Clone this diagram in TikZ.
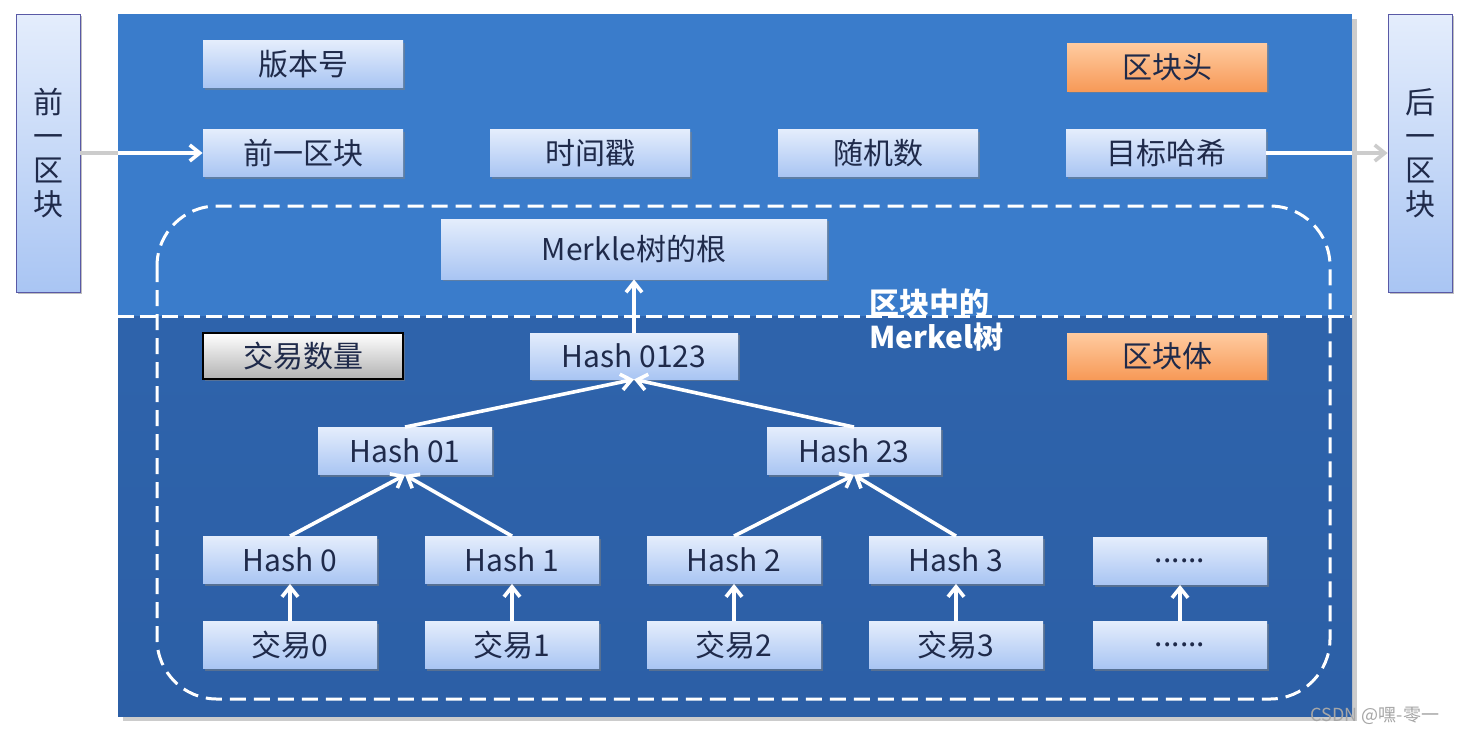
\documentclass[tikz,border=0pt]{standalone}
\usepackage{fontspec}
\setmainfont{Noto Sans CJK SC}
\usetikzlibrary{shadows,arrows.meta}
\definecolor{topblue}{HTML}{3A7CCB}
\definecolor{botblue}{HTML}{2C5FA6}
\definecolor{bxtop}{HTML}{E4EDFC}
\definecolor{bxbot}{HTML}{A9C5F3}
\definecolor{ortop}{HTML}{FFCBA0}
\definecolor{orbot}{HTML}{F79A58}
\definecolor{txt}{HTML}{1F2A4A}
\begin{document}
\begin{tikzpicture}[x=0.5pt,y=-0.5pt,
  bx/.style={draw=none,top color=bxtop,bottom color=bxbot,text=txt,font=\fontsize{15}{17}\selectfont,drop shadow={shadow xshift=1pt,shadow yshift=-1pt,opacity=0.5}},
  obx/.style={bx,top color=ortop,bottom color=orbot},
  gbx/.style={bx,top color=white,bottom color=gray!60,draw=black,line width=0.6pt},
  arrf/.style={white,line width=1.8pt,-{Straight Barb[length=5pt,width=8pt]}},
  arrs/.style={gray!40,line width=1.8pt,-{Straight Barb[length=5pt,width=8pt]}}]
\useasboundingbox (0,0) rectangle (1461,736);
\fill[white] (0,0) rectangle (1461,736);
% main panel
\fill[botblue,drop shadow={opacity=0.4}] (118,14) rectangle (1352,716);
\fill[topblue] (118,14) rectangle (1352,316);
\shade[top color=botblue!85!topblue,bottom color=botblue] (118,316) rectangle (1352,716);
\draw[white,line width=1.5pt,dash pattern=on 8pt off 3pt] (118,316) -- (1352,316);
\draw[white,line width=1.5pt,dash pattern=on 8pt off 4pt,rounded corners=30pt] (157,206) rectangle (1330,699);
% side blocks
\node[bx,minimum width=32pt,minimum height=139pt,inner sep=0pt,align=center,draw=gray!70!blue] (prev) at (48,153) {前\\一\\区\\块};
\node[bx,minimum width=32pt,minimum height=139pt,inner sep=0pt,align=center,draw=gray!70!blue] (next) at (1420,153) {后\\一\\区\\块};
\coordinate (pin) at (118,153);
\coordinate (pout) at (1352,153);
% header
\node[bx,minimum width=100pt,minimum height=23.5pt] (ver) at (303,64) {版本号};
\node[bx,minimum width=100pt,minimum height=23.5pt] (pb) at (303,153) {前一区块};
\node[bx,minimum width=100pt,minimum height=23.5pt] (ts) at (590,153) {时间戳};
\node[bx,minimum width=100pt,minimum height=23.5pt] (nonce) at (878,153) {随机数};
\node[bx,minimum width=100pt,minimum height=23.5pt] (tgt) at (1166,153) {目标哈希};
\node[obx,minimum width=100pt,minimum height=24pt] (hd) at (1167,67) {区块头};
\node[bx,minimum width=193pt,minimum height=30pt] (root) at (634,249) {Merkle树的根};
\node[gbx,minimum width=100pt,minimum height=23pt] (cnt) at (303,356) {交易数量};
\node[bx,minimum width=104pt,minimum height=23pt] (h0123) at (634,356) {Hash 0123};
\node[obx,minimum width=100pt,minimum height=23pt] (body) at (1167,356) {区块体};
\node[bx,minimum width=87pt,minimum height=23.5pt] (h01) at (405,451) {Hash 01};
\node[bx,minimum width=87pt,minimum height=23.5pt] (h23) at (854,451) {Hash 23};
\foreach \i/\x in {0/290,1/512,2/734,3/956}{
  \node[bx,minimum width=87pt,minimum height=23.5pt] (h\i) at (\x,560) {Hash \i};
  \node[bx,minimum width=87pt,minimum height=23.5pt] (t\i) at (\x,645) {交易\i};
  \draw[arrf] (t\i.north) -- (h\i.south);
}
\node[bx,minimum width=87pt,minimum height=23.5pt] (hd5) at (1180,561) {......};
\node[bx,minimum width=87pt,minimum height=23.5pt] (td5) at (1180,645) {......};
\draw[arrf] (td5.north) -- (hd5.south);
\draw[arrf] (h0.north) -- (h01.south);
\draw[arrf] (h1.north) -- (h01.south);
\draw[arrf] (h2.north) -- (h23.south);
\draw[arrf] (h3.north) -- (h23.south);
\draw[arrf] (h01.north) -- (h0123.south);
\draw[arrf] (h23.north) -- (h0123.south);
\draw[arrf] (h0123.north) -- (root.south);
\draw[gray!40,line width=1.8pt] (prev.east |- pb) -- (pin);
\draw[arrf] (pin) -- (pb.west);
\draw[white,line width=1.8pt] (tgt.east) -- (pout);
\draw[arrs] (pout) -- (next.west |- tgt);
\node[white,font=\fontsize{15}{17}\selectfont\bfseries,align=left,anchor=west] (lbl) at (862,320) {区块中的\\Merkel树};
\node[gray!70,font=\fontsize{9}{10}\selectfont,anchor=center] (wm) at (1375,716) {CSDN @嘿-零一};
\end{tikzpicture}
\end{document}
